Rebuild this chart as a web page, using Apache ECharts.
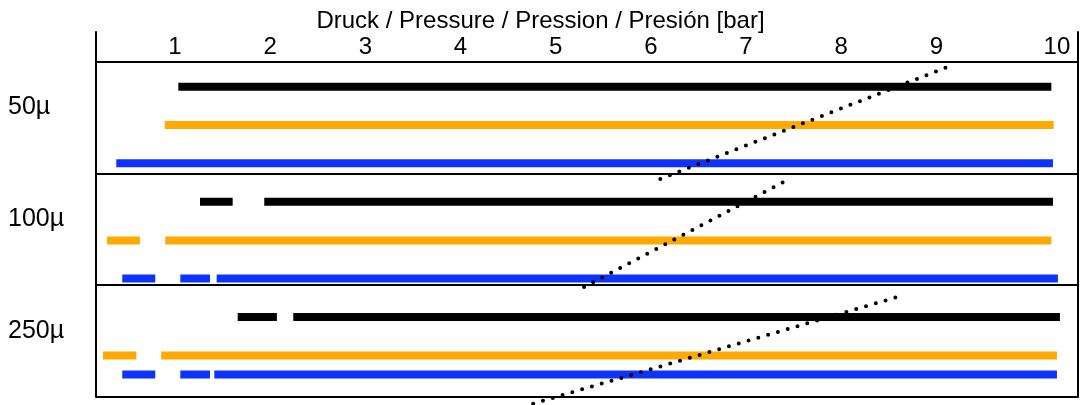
<!DOCTYPE html>
<html>
<head>
<meta charset="utf-8">
<script src="https://cdn.jsdelivr.net/npm/echarts@6/dist/echarts.min.js"></script>
<style>
  html, body { margin: 0; padding: 0; background: #fff; }
  #chart { width: 1081px; height: 405px; }
</style>
</head>
<body>
<div id="chart"></div>
<script>
// tick labels and rows
const pressureTicks = [1, 2, 3, 4, 5, 6, 7, 8, 9, 10];
const rowNames = ["50µ", "100µ", "250µ"];

// pressure ranges [from, to] in bar, one list per row (50µ, 100µ, 250µ)
const blackRanges = [
  [[1.035, 10.209]],
  [[1.263, 1.606], [1.938, 10.226]],
  [[1.659, 2.071], [2.243, 10.299]],
];
const orangeRanges = [
  [[0.892, 10.233]],
  [[0.286, 0.632], [0.898, 10.209]],
  [[0.244, 0.594], [0.856, 10.268]],
];
const blueRanges = [
  [[0.383, 10.226]],
  [[0.446, 0.793], [1.056, 1.368], [1.438, 10.278]],
  [[0.446, 0.793], [1.056, 1.368], [1.413, 10.268]],
];

// dotted guide lines: [pressure, row coordinate] end points
const guide1 = [[6.100, 1.049], [9.112, 0.050]];
const guide2 = [[5.299, 2.017], [7.390, 1.078]];
const guide3 = [[4.764, 3.060], [8.587, 2.106]];

// where each colour sits inside its row band (layout only)
const laneOffset = {
  black: [0.224, 0.254, 0.285],
  orange: [0.568, 0.600, 0.629],
  blue: [0.910, 0.940, 0.799],
};

const FONT = "Liberation Sans, Arial, sans-serif";

function buildLine(ranges, lanes) {
  const out = [];
  ranges.forEach((segs, row) => {
    const y = row + lanes[row];
    segs.forEach((s) => {
      out.push([s[0], y], [s[1], y], ["-", "-"]);
    });
  });
  return out;
}

function rangeSeries(name, color, ranges, lanes) {
  return {
    name: name,
    type: "line",
    data: buildLine(ranges, lanes),
    symbol: "none",
    connectNulls: false,
    lineStyle: { color: color, width: 8, cap: "butt" },
    silent: true,
  };
}

function guideSeries(points) {
  return {
    type: "line",
    data: points,
    symbol: "none",
    clip: false,
    lineStyle: { color: "#000", width: 4, type: [0, 10.2], cap: "round" },
    silent: true,
  };
}

const chart = echarts.init(document.getElementById("chart"));

const option = {
  animation: false,
  backgroundColor: "#fff",
  title: {
    text: "Druck / Pressure / Pression / Presión [bar]",
    left: "center",
    top: 4,
    textStyle: { fontFamily: FONT, fontSize: 24, fontWeight: "normal", color: "#000" },
  },
  grid: { left: 96, right: 3, top: 32, bottom: 8 },
  xAxis: {
    type: "value",
    position: "top",
    offset: -30,
    min: 0.17,
    max: 10.489,
    axisLine: { show: false },
    axisTick: { show: false },
    splitLine: { show: false },
    axisLabel: {
      customValues: pressureTicks,
      margin: 3,
      fontFamily: FONT,
      fontSize: 24,
      color: "#000",
      formatter: (v) => (v === 10 ? "{last|10}" : String(v)),
      rich: { last: { fontFamily: FONT, fontSize: 24, color: "#000", padding: [0, 0, 0, 51] } },
    },
  },
  yAxis: [
    {
      type: "value",
      inverse: true,
      min: -0.265,
      max: 3,
      axisLine: { show: true, lineStyle: { color: "#000", width: 2 } },
      axisTick: { show: false },
      splitLine: { show: false },
      axisLabel: {
        customValues: [0.5, 1.5, 2.5],
        formatter: (v) => rowNames[Math.floor(v)] || "",
        align: "left",
        verticalAlign: "bottom",
        lineHeight: 20,
        margin: 88,
        fontFamily: FONT,
        fontSize: 25,
        color: "#000",
      },
    },
    {
      type: "value",
      position: "right",
      inverse: true,
      min: -0.265,
      max: 3,
      axisLine: { show: true, lineStyle: { color: "#000", width: 2 } },
      axisTick: { show: false },
      axisLabel: { show: false },
      splitLine: { show: false },
    },
  ],
  series: [
    {
      type: "line",
      data: [],
      silent: true,
      markLine: {
        silent: true,
        symbol: ["none", "none"],
        label: { show: false },
        lineStyle: { color: "#000", width: 2, type: "solid" },
        data: [{ yAxis: 0 }, { yAxis: 1 }, { yAxis: 2 }, { yAxis: 3 }],
      },
    },
    rangeSeries("black", "#000000", blackRanges, laneOffset.black),
    rangeSeries("orange", "#ffaa00", orangeRanges, laneOffset.orange),
    rangeSeries("blue", "#0f33ff", blueRanges, laneOffset.blue),
    guideSeries(guide1),
    guideSeries(guide2),
    guideSeries(guide3),
  ],
};

chart.setOption(option);
</script>
</body>
</html>
